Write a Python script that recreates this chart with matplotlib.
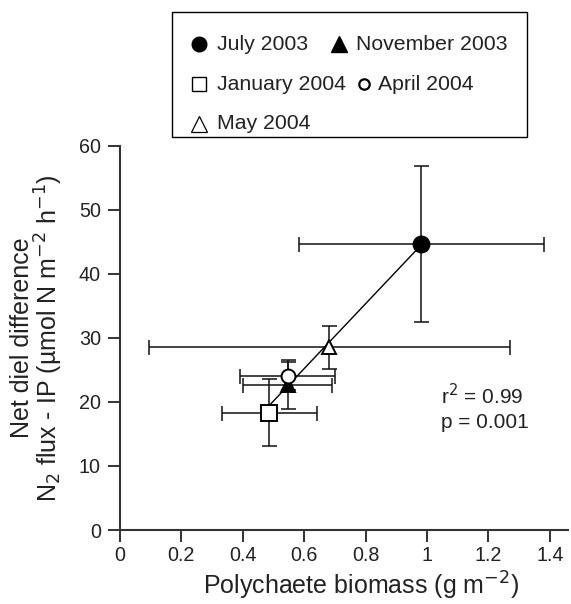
import numpy as np
import matplotlib.pyplot as plt
from matplotlib.lines import Line2D
from matplotlib.patches import Rectangle

plt.rcParams['font.family'] = ['Liberation Sans', 'DejaVu Sans']

# data
labels = ['July 2003', 'November 2003', 'January 2004', 'April 2004', 'May 2004']
biomass = [0.981, 0.546, 0.486, 0.546, 0.681]
biomass_err = [0.399, 0.146, 0.155, 0.155, 0.588]
flux = [44.6, 22.7, 18.3, 24.1, 28.5]
flux_err = [12.2, 3.8, 5.2, 2.2, 3.4]
markers = ['o', '^', 's', 'o', '^']
faces = ['k', 'k', 'white', 'white', 'white']
sizes = [11.5, 10, 11, 10, 10]

xticks = [0, 0.2, 0.4, 0.6, 0.8, 1, 1.2, 1.4]
xticklabels = ['0', '0.2', '0.4', '0.6', '0.8', '1', '1.2', '1.4']
yticks = [0, 10, 20, 30, 40, 50, 60]

axcol = '#333333'
txtcol = '#222222'
W, H = 571, 604

fig = plt.figure(figsize=(5.71, 6.04), dpi=100)
ax = fig.add_axes([0.2102, 0.1225, 0.7845, 0.6363])

# regression line
coef = np.polyfit(biomass, flux, 1)
xs = np.array([min(biomass), max(biomass)])
ax.plot(xs, np.polyval(coef, xs), color='k', lw=1.0, zorder=2)

for i in range(len(labels)):
    ax.errorbar(biomass[i], flux[i], xerr=biomass_err[i], yerr=flux_err[i],
                fmt='none', ecolor='#111111', elinewidth=1.1, capsize=5.4,
                capthick=1.1, zorder=1)
    ax.plot(biomass[i], flux[i], marker=markers[i], ms=sizes[i],
            mfc=faces[i], mec='k', mew=1.4, ls='none', zorder=3)

ax.set_xlim(0, 1.459)
ax.set_ylim(0, 60)
ax.set_xticks(xticks)
ax.set_xticklabels(xticklabels)
ax.set_yticks(yticks)
for s in ['top', 'right']:
    ax.spines[s].set_visible(False)
for s in ['left', 'bottom']:
    ax.spines[s].set_linewidth(1.5)
    ax.spines[s].set_color(axcol)
ax.tick_params(direction='out', length=8.8, width=1.4, color=axcol,
               labelsize=14.2, labelcolor=txtcol)
ax.tick_params(axis='x', pad=3)
ax.tick_params(axis='y', pad=5)

ax.set_xlabel('Polychaete biomass (g m$^{-2}$)', fontsize=18,
              color=txtcol, labelpad=3, x=0.539)
ax.set_ylabel('Net diel difference\nN$_2$ flux - IP (µmol N m$^{-2}$ h$^{-1}$)',
              fontsize=18, color=txtcol, labelpad=10, linespacing=0.95)

ax.text(1.045, 19.1, 'r$^2$ = 0.99\np = 0.001', fontsize=15,
        color=txtcol, linespacing=1.3, va='center', ha='left')

# legend drawn by hand, entries are not column aligned in the original
fig.add_artist(Rectangle((172 / W, 1 - 137.3 / H), 355 / W, 125.6 / H,
                         transform=fig.transFigure, fill=False,
                         edgecolor='k', lw=1.0))
# (marker x, text x, row y) in pixels
leg_pos = [(199, 217, 44), (339, 356, 44), (199, 217, 84), (364, 378, 84),
           (199, 217, 124)]
leg_style = [dict(marker='o', ms=10.5, mfc='k', mec='k'),
             dict(marker='^', ms=12, mfc='k', mec='k'),
             dict(marker='s', ms=10.5, mfc='white', mec='k', mew=1.0),
             dict(marker='o', ms=7.5, mfc='white', mec='k', mew=1.6),
             dict(marker='^', ms=11, mfc='white', mec='k', mew=0.9)]
for (mx, tx, ry), lab, st in zip(leg_pos, labels, leg_style):
    fig.add_artist(Line2D([mx / W], [1 - ry / H], transform=fig.transFigure,
                          ls='none', **st))
    fig.text(tx / W, 1 - ry / H, lab, fontsize=15.3, color=txtcol,
             ha='left', va='center')

fig.savefig('out.png', dpi=100)
